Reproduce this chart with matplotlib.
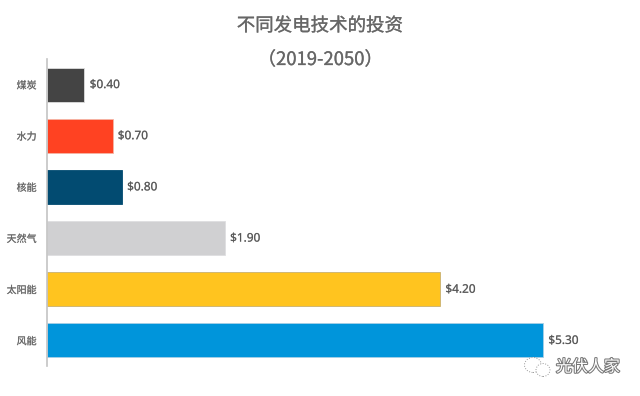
import matplotlib
matplotlib.use('Agg')
import matplotlib.pyplot as plt
import matplotlib.patheffects as pe
from matplotlib.patches import Ellipse

plt.rcParams['font.family'] = ['Noto Sans CJK SC', 'DejaVu Sans']

categories = ['煤炭', '水力', '核能', '天然气', '太阳能', '风能']
values = [0.40, 0.70, 0.80, 1.90, 4.20, 5.30]
colors = ['#444444', '#FF4222', '#024B71', '#D0D0D2', '#FFC41F', '#0095DB']
edges = ['#dddddd', '#f5b5a5', '#024B71', '#dedee0', '#c9b070', '#a8cfe6']
title_lines = ['不同发电技术的投资', '（2019-2050）']

W, H = 640, 396
fig = plt.figure(figsize=(W / 100, H / 100), dpi=100)
ax = fig.add_axes([47 / W, 1 - 366 / H, 573 / W, 307 / H])

ypos = range(len(categories))
ax.barh(ypos, values, height=0.665, color=colors, edgecolor=edges, linewidth=0.6)
ax.set_ylim(5.5, -0.5)
ax.set_xlim(0, 573 / 93.6)

# faint stroke, the reference text is a bit heavier than the regular weight
faint = [pe.withStroke(linewidth=0.3, foreground='#bbbbbb')]
thicker = [pe.withStroke(linewidth=0.25, foreground='#888888')]

ax.set_yticks(list(ypos))
ax.set_yticklabels(categories, fontsize=7.2, color='#606060', path_effects=faint)
ax.tick_params(axis='y', length=0, pad=7.5)
ax.set_xticks([])
for side in ['top', 'right', 'bottom']:
    ax.spines[side].set_visible(False)
ax.spines['left'].set_color('#c4c4c4')
ax.spines['left'].set_linewidth(1.2)

for y, v in zip(ypos, values):
    ax.annotate(f'${v:.2f}', (v, y), xytext=(3.8, 0), textcoords='offset points',
                va='center', fontsize=8.5, color='#555555', family='Noto Sans',
                path_effects=faint)

fig.text(320 / W, 1 - 26 / H, title_lines[0], ha='center', va='center',
         fontsize=13.3, color='#666666', path_effects=thicker)
fig.text(320 / W, 1 - 60 / H, title_lines[1], ha='center', va='center',
         fontsize=13.3, color='#666666', path_effects=thicker)

# watermark in the lower right corner
halo = [pe.withStroke(linewidth=1.5, foreground='#777777')]
fig.text(556 / W, 1 - 367 / H, '光伏人家', ha='left', va='center', fontsize=11.5,
         color='white', path_effects=halo)
fig.add_artist(Ellipse((533 / W, 1 - 365 / H), 17 / W, 15 / H, transform=fig.transFigure,
                       facecolor='white', edgecolor='#999999', linewidth=0.7, linestyle=':'))
fig.add_artist(Ellipse((543 / W, 1 - 370 / H), 14 / W, 13 / H, transform=fig.transFigure,
                       facecolor='white', edgecolor='#999999', linewidth=0.7, linestyle=':'))

fig.savefig('out.png', dpi=100)
